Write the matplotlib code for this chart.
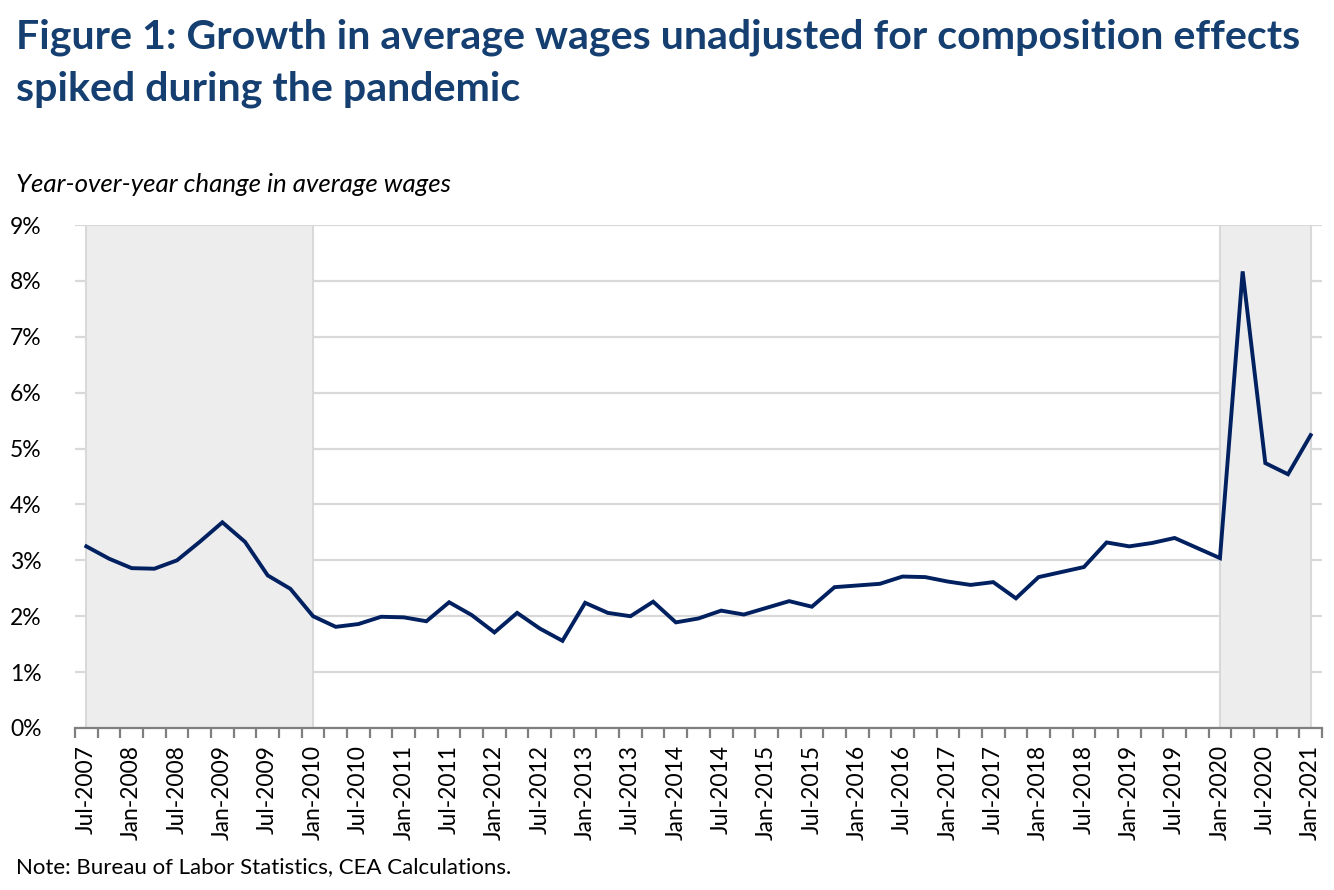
import numpy as np
import pandas as pd
import matplotlib
matplotlib.use('Agg')
import matplotlib.pyplot as plt
from matplotlib.ticker import FixedLocator

# quarterly, Jul-2007 .. Jan-2021
quarters = pd.date_range('2007-07-01', '2021-01-01', freq='QS')
wage_growth = [3.25, 3.03, 2.86, 2.85, 3.00, 3.33, 3.68, 3.33, 2.73, 2.49,
               2.00, 1.81, 1.86, 1.99, 1.98, 1.91, 2.25, 2.02, 1.71, 2.06,
               1.78, 1.56, 2.24, 2.06, 2.00, 2.26, 1.89, 1.96, 2.10, 2.03,
               2.15, 2.27, 2.17, 2.52, 2.55, 2.58, 2.71, 2.70, 2.62, 2.56,
               2.61, 2.32, 2.70, 2.79, 2.88, 3.32, 3.25, 3.31, 3.40, 3.22,
               3.04, 8.17, 4.74, 4.54, 5.24]
recessions = [('2007-07-01', '2010-01-01'), ('2020-01-01', '2021-01-01')]
y_ticks = [0, 1, 2, 3, 4, 5, 6, 7, 8, 9]

labels = [d.strftime('%b-%Y') for d in quarters]
x = np.arange(len(quarters))

title_font = 'Lato'
navy = '#143f70'

fig = plt.figure(figsize=(13.34, 8.9), dpi=100)
ax = fig.add_axes([75/1334, 1-728/890, (1322-75)/1334, (728-225)/890])

ax.set_xlim(-0.5, len(x) - 0.5)
ax.set_ylim(0, 9)

# gridlines
ax.yaxis.set_major_locator(FixedLocator(y_ticks))
ax.grid(axis='y', color='#d9d9d9', linewidth=1.6, zorder=0)
ax.set_axisbelow(True)

# recession shading
for start, end in recessions:
    i0 = list(quarters).index(pd.Timestamp(start))
    i1 = list(quarters).index(pd.Timestamp(end))
    ax.axvspan(i0, i1, ymin=0, ymax=1, facecolor='#ededed',
               edgecolor='#d9d9d9', linewidth=1.5, zorder=1)

ax.plot(x, wage_growth, color='#002060', linewidth=2.8, zorder=3,
        solid_joinstyle='miter')

for s in ['top', 'right', 'left']:
    ax.spines[s].set_visible(False)
ax.spines['bottom'].set_color('#7f7f7f')
ax.spines['bottom'].set_linewidth(1.6)
ax.spines['bottom'].set_zorder(4)

ax.set_yticklabels(['%d%%' % v for v in y_ticks], fontname=title_font,
                   fontsize=16.5, color='#000000')
ax.tick_params(axis='y', length=0, pad=24)

ax.set_xticks(x[::2])
ax.set_xticklabels(labels[::2], rotation=90, fontname=title_font,
                   fontsize=16.5, color='#000000')
ax.set_xticks(np.arange(-0.5, len(x)), minor=True)
ax.tick_params(axis='x', which='major', length=0, pad=12)
ax.tick_params(axis='x', which='minor', length=7, width=1.6, color='#7f7f7f')

fig.text(16/1334, 1-48/890,
         'Figure 1: Growth in average wages unadjusted for composition effects',
         fontname=title_font, fontweight='bold', fontsize=29.6, color=navy)
fig.text(16/1334, 1-101/890, 'spiked during the pandemic',
         fontname=title_font, fontweight='bold', fontsize=29.6, color=navy)
fig.text(16/1334, 1-192/890, 'Year-over-year change in average wages',
         fontname=title_font, fontstyle='italic', fontsize=18.6, color='#000000')
fig.text(16/1334, 1-873/890, 'Note: Bureau of Labor Statistics, CEA Calculations.',
         fontname=title_font, fontsize=16, color='#000000')

fig.savefig('out.png', dpi=100)
